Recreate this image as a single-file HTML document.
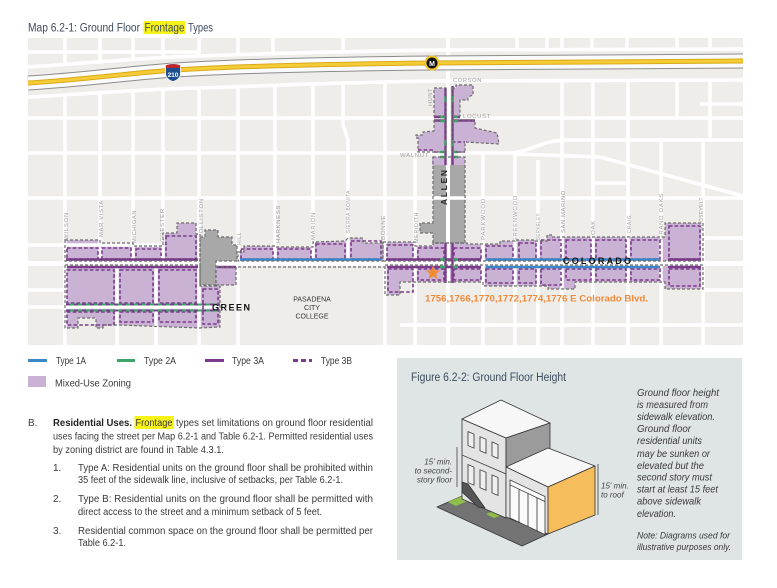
<!DOCTYPE html>
<html><head><meta charset="utf-8">
<style>
html,body{margin:0;padding:0;background:#fff;}
svg{display:block;}
</style></head>
<body>
<svg width="777" height="588" viewBox="0 0 777 588" xmlns="http://www.w3.org/2000/svg" font-family="Liberation Sans, sans-serif">
<rect width="777" height="588" fill="#fff"/>

<!-- Title -->
<rect x="143.5" y="21" width="42" height="13" fill="#f7f218"/>
<text x="28" y="31.5" font-size="11.5" fill="#3d4b5c" textLength="112" lengthAdjust="spacingAndGlyphs">Map 6.2-1: Ground Floor</text>
<text x="144.5" y="31.5" font-size="11.5" fill="#3d4b5c" textLength="40" lengthAdjust="spacingAndGlyphs">Frontage</text>
<text x="188" y="31.5" font-size="11.5" fill="#3d4b5c" textLength="25" lengthAdjust="spacingAndGlyphs">Types</text>

<!-- MAP -->
<rect x="28" y="38" width="715" height="307" fill="#efedea"/>

<!-- zones fill -->
<g fill="#c9b2d3">
<polygon points="65,240 100,240 100,243 133,243 133,246 163,246 163,233 177,233 177,223 196,223 196,234 200,234 200,263 65,263"/>
<polygon points="216,267 236,267 236,285 216,285"/>
<polygon points="65,265 200,265 200,286 220,286 220,327 200,328 118,325 103,325 103,328 96,328 96,318 78,318 78,328 65,328"/>
<polygon points="238,252 244,252 244,246 275,246 275,247 313,247 313,242 345,241 348,238 363,238 363,243 383,243 383,263 238,263"/>
<polygon points="383,242 415,242 415,246 433,246 433,243 467,243 467,244 500,244 500,241 515,241 515,240 535,240 535,241 547,241 547,235 552,235 552,237 665,237 665,223 703,223 703,263 383,263"/>
<polygon points="385,265 703,265 703,289 665,289 665,282 575,282 575,289 548,289 548,286 483,286 483,282 400,282 400,295 385,295"/>
<polygon points="434,88 446,88 446,116 434,116"/>
<polygon points="452,88 456,88 456,85 473,85 473,95 468,97 468,100 460,100 460,116 452,116"/>
<polygon points="434,120 446,120 446,152 418,152 418,138 416,138 416,135 423,135 423,132 434,131"/>
<polygon points="452,120 475,120 475,128 497,133 499,144 465,142 465,152 452,152"/>
<polygon points="432,157 446,157 446,165 432,165"/>
<polygon points="451,157 465,157 465,165 451,165"/>
</g>
<!-- grey Allen area -->
<polygon points="433,165 465,165 465,243 433,243 433,233 420,233 420,223 433,223" fill="#a8a8a8"/>

<!-- streets -->
<g stroke="#fff" stroke-width="3.5" fill="none">
<path d="M28,52 H200 M28,118 H743 M28,153 H515 M510,153 C530,152 540,141 565,140 H743 M515,154 L600,157 L743,196 M593,183 H628 M28,198 H743 M28,245 H163 M703,238 H743 M28,290 H65 M703,290 H743 M28,307 H220 M400,325 H743 M700,104 H743"/>
<path d="M65,38 V66 M100,38 V64 M133,38 V60 M163,38 V58 M199,38 V56 M238,38 V55 M273,38 V54 M343,38 V52 M448,38 V50 M517,38 V50 M547,38 V50 M562,38 V50 M592,38 V50 M627,38 V50 M677,38 V50 M710,38 V50"/>
<path d="M65,96 V345 M100,94 V263 M117,263 V345 M133,92 V263 M156,263 V345 M163,90 V263 M199,88 V345 M238,87 V345 M275,86 V263 M313,85 V263 M343,84 V125 L348,140 V263 M385,83 V345 M415,153 V345 M483,153 V345 M515,153 V345 M538,160 V345 M562,80 V345 M593,80 V345 M628,80 V345 M661,140 V345 M703,140 V345 M677,80 V118 M710,80 V140"/>
<path d="M448,38 V345" stroke-width="4"/>
<path d="M28,263.5 H743" stroke-width="5"/>
</g>
<!-- grey Wolliston area (over streets) -->
<polygon points="200,237 205,237 205,230 218,230 218,237 232,237 232,245 237,245 237,261 216,261 216,285 200,285" fill="#a8a8a8"/>

<!-- freeway -->
<g fill="none">
<path d="M28,67 C80,64 130,58 200,56 C280,53 360,51 432,50 L743,49" stroke="#fff" stroke-width="3.5"/>
<path d="M28,97 C90,94 140,89 200,88 C280,85 360,82 432,81 L743,80" stroke="#fff" stroke-width="3.5"/>
<path d="M28,83 C80,80 130,73 175,70 C240,66 330,64 432,63 L743,61" stroke="#8c8c8c" stroke-width="15"/>
<path d="M28,83 C80,80 130,73 175,70 C240,66 330,64 432,63 L743,61" stroke="#fbfbfb" stroke-width="13"/>
<path d="M28,83 C80,80 130,73 175,70 C240,66 330,64 432,63 L743,61" stroke="#d9a91c" stroke-width="5"/>
<path d="M28,83 C80,80 130,73 175,70 C240,66 330,64 432,63 L743,61" stroke="#f5cc35" stroke-width="3"/>
</g>
<!-- I-210 shield -->
<path d="M165.5,65 Q173,62.5 180.5,65 L180.5,73 Q180.5,79.5 173,81.5 Q165.5,79.5 165.5,73 Z" fill="#1d4f91" stroke="#fff" stroke-width="0.8"/>
<path d="M165.9,65.3 Q173,63 180.1,65.3 L180.1,68 L165.9,68 Z" fill="#c0272d"/>
<text x="173" y="77" font-size="6.5" font-weight="bold" fill="#fff" text-anchor="middle">210</text>
<!-- Metro -->
<circle cx="432" cy="63" r="7.5" fill="#f3c623"/>
<circle cx="432" cy="63" r="5.5" fill="#111"/>
<text x="432" y="65.8" font-size="7" font-weight="bold" fill="#fff" text-anchor="middle">M</text>

<!-- purple dashed block outlines (Type 3B) -->
<g fill="none" stroke="#7b3a8a" stroke-width="1.6" stroke-dasharray="3.5,2.2">
<rect x="67" y="248" width="31" height="11"/><rect x="102" y="248" width="29" height="11"/><rect x="136" y="249" width="25" height="10"/><rect x="166" y="236" width="30" height="23"/>
<rect x="67" y="270" width="47" height="33"/><rect x="120" y="270" width="33" height="33"/><rect x="159" y="270" width="37" height="33"/>
<rect x="67" y="312" width="47" height="13"/><rect x="120" y="312" width="33" height="10"/><rect x="159" y="312" width="37" height="10"/><rect x="203" y="289" width="15" height="35"/>
<rect x="241" y="249" width="32" height="10"/><rect x="278" y="249" width="33" height="10"/><rect x="316" y="244" width="29" height="15"/><rect x="351" y="241" width="30" height="18"/>
<rect x="387" y="245" width="26" height="14"/><rect x="418" y="248" width="26" height="11"/><rect x="454" y="248" width="27" height="11"/><rect x="486" y="246" width="27" height="13"/><rect x="519" y="243" width="17" height="16"/><rect x="541" y="240" width="20" height="19"/><rect x="566" y="240" width="25" height="19"/><rect x="596" y="240" width="30" height="19"/><rect x="631" y="240" width="29" height="19"/><rect x="669" y="226" width="31" height="33"/>
<rect x="388" y="269" width="25" height="23"/><rect x="418" y="269" width="26" height="11"/><rect x="454" y="269" width="27" height="11"/><rect x="486" y="269" width="27" height="14"/><rect x="519" y="269" width="17" height="14"/><rect x="541" y="269" width="20" height="16"/><rect x="566" y="269" width="25" height="11"/><rect x="596" y="269" width="30" height="11"/><rect x="631" y="269" width="29" height="11"/><rect x="669" y="269" width="31" height="17"/>
<path d="M434,152 H446 M452,152 H465 M452,142 H465 M418,150 H434"/>
</g>

<!-- Green street (Type 2A) -->
<g stroke="#3ea56a" stroke-width="2" fill="none">
<path d="M66,304.5 H220 M66,310.5 H220"/>
</g>
<g stroke="#7b3a8a" stroke-width="1.8" fill="none" stroke-dasharray="4,4">
<path d="M66,304.5 H220 M66,310.5 H220"/>
</g>

<!-- Colorado frontage lines -->
<g fill="none" stroke-width="2.4">
<path d="M66,259.5 H198 M386,259.5 H481 M668,259.5 H701 M67,267 H198 M217,267 H236 M387,267 H481 M668,267 H701" stroke="#7b3a8a"/>
<path d="M240,259.5 H381 M486,259.5 H660 M486,267 H660" stroke="#3b86c6"/>
<path d="M445.5,88 V165 M452.5,86 V165 M445.5,243 V283 M452.5,243 V283 M434,117 H446 M452,117 H460 M434,120.5 H446 M452,120.5 H475" stroke="#7b3a8a"/>
<path d="M440,259.5 H445 M453,259.5 H458 M440,267 H445 M453,267 H458 M440,117 H445 M453,117 H458 M440,121 H445 M453,121 H458 M440,152 H445 M453,152 H458 M440,157 H445 M453,157 H458 M445.5,96 V102 M452.5,96 V102 M445.5,140 V146 M452.5,140 V146" stroke="#3ea56a"/>
</g>

<!-- grey dashed zone outlines -->
<g fill="none" stroke="#6e6e6e" stroke-width="1.2" stroke-dasharray="3,2">
<polygon points="65,240 100,240 100,243 133,243 133,246 163,246 163,233 177,233 177,223 196,223 196,234 200,234 200,261 65,261"/>
<polygon points="65,265 200,265 200,286 220,286 220,327 200,328 118,325 103,325 103,328 96,328 96,318 78,318 78,328 65,328"/>
<polygon points="200,237 205,237 205,230 218,230 218,237 232,237 232,245 237,245 237,261 216,261 216,285 200,285"/>
<polygon points="216,267 236,267 236,285 216,285"/>
<polygon points="238,252 244,252 244,246 275,246 275,247 313,247 313,242 345,241 348,238 363,238 363,243 383,243 383,261 238,261"/>
<path d="M238,267 H385"/>
<polygon points="383,242 415,242 415,246 433,246 433,243 467,243 467,244 500,244 500,241 515,241 515,240 535,240 535,241 547,241 547,235 552,235 552,237 665,237 665,223 703,223 703,261 383,261"/>
<polygon points="385,265 703,265 703,289 665,289 665,282 575,282 575,289 548,289 548,286 483,286 483,282 400,282 400,295 385,295"/>
<polygon points="434,88 446,88 446,116 434,116"/>
<polygon points="452,88 456,88 456,85 473,85 473,95 468,97 468,100 460,100 460,116 452,116"/>
<polygon points="434,120 446,120 446,152 418,152 418,138 416,138 416,135 423,135 423,132 434,131"/>
<polygon points="452,120 475,120 475,128 497,133 499,144 465,142 465,152 452,152"/>
<polygon points="433,157 465,157 465,243 433,243 433,233 420,233 420,223 433,223"/>
</g>

<!-- street labels -->
<g font-size="5.5" fill="#a0a0a0" letter-spacing="0.6">
<text transform="translate(68,240) rotate(-90)" textLength="28" lengthAdjust="spacingAndGlyphs">WILSON</text>
<text transform="translate(103,237) rotate(-90)" textLength="37" lengthAdjust="spacingAndGlyphs">MAR VISTA</text>
<text transform="translate(136,243) rotate(-90)" textLength="33" lengthAdjust="spacingAndGlyphs">MICHIGAN</text>
<text transform="translate(164,242) rotate(-90)" textLength="34" lengthAdjust="spacingAndGlyphs">CHESTER</text>
<text transform="translate(203,240) rotate(-90)" textLength="42" lengthAdjust="spacingAndGlyphs">WOLLISTON</text>
<text transform="translate(241,245) rotate(-90)" textLength="13" lengthAdjust="spacingAndGlyphs">HILL</text>
<text transform="translate(280,243) rotate(-90)" textLength="38" lengthAdjust="spacingAndGlyphs">HARKNESS</text>
<text transform="translate(315,240) rotate(-90)" textLength="28" lengthAdjust="spacingAndGlyphs">MARION</text>
<text transform="translate(350,233) rotate(-90)" textLength="43" lengthAdjust="spacingAndGlyphs">SIERRA BONITA</text>
<text transform="translate(385,240) rotate(-90)" textLength="25" lengthAdjust="spacingAndGlyphs">BONNE</text>
<text transform="translate(418,243) rotate(-90)" textLength="31" lengthAdjust="spacingAndGlyphs">MERIDITH</text>
<text transform="translate(485,240) rotate(-90)" textLength="42" lengthAdjust="spacingAndGlyphs">PARKWOOD</text>
<text transform="translate(517,242) rotate(-90)" textLength="47" lengthAdjust="spacingAndGlyphs">GREENWOOD</text>
<text transform="translate(540,240) rotate(-90)" textLength="27" lengthAdjust="spacingAndGlyphs">BERKELEY</text>
<text transform="translate(565,233) rotate(-90)" textLength="43" lengthAdjust="spacingAndGlyphs">SAN MARINO</text>
<text transform="translate(595,235) rotate(-90)" textLength="15" lengthAdjust="spacingAndGlyphs">OAK</text>
<text transform="translate(631,233) rotate(-90)" textLength="18" lengthAdjust="spacingAndGlyphs">CRAIG</text>
<text transform="translate(663,240) rotate(-90)" textLength="47" lengthAdjust="spacingAndGlyphs">GRAND OAKS</text>
<text transform="translate(703,230) rotate(-90)" textLength="33" lengthAdjust="spacingAndGlyphs">ROOSEVELT</text>
<text transform="translate(432,106) rotate(-90)" textLength="18" lengthAdjust="spacingAndGlyphs">HUNT</text>
<text x="453" y="82" textLength="29" lengthAdjust="spacingAndGlyphs">CORSON</text>
<text x="463" y="118" textLength="28" lengthAdjust="spacingAndGlyphs">LOCUST</text>
<text x="400" y="157" textLength="29" lengthAdjust="spacingAndGlyphs">WALNUT</text>
</g>

<!-- map labels -->
<text x="563" y="264" font-size="9" font-weight="bold" fill="#111" textLength="68" lengthAdjust="spacing">COLORADO</text>
<text x="212" y="310.5" font-size="9" font-weight="bold" fill="#111" textLength="38" lengthAdjust="spacing">GREEN</text>
<text transform="translate(447,205) rotate(-90)" font-size="8.5" font-weight="bold" fill="#222" textLength="35" lengthAdjust="spacing">ALLEN</text>
<g font-size="7" fill="#333" text-anchor="middle">
<text x="312" y="301.5">PASADENA</text>
<text x="312" y="310">CITY</text>
<text x="312" y="318.5">COLLEGE</text>
</g>
<polygon points="433,265.5 434.88,270.41 440.13,270.68 436.04,273.99 437.41,279.07 433,276.2 428.59,279.07 429.96,273.99 425.87,270.68 431.12,270.41" fill="#f28a30"/>
<text x="425" y="301.5" font-size="9.5" font-weight="bold" fill="#f08a3a" textLength="223" lengthAdjust="spacingAndGlyphs">1756,1766,1770,1772,1774,1776 E Colorado Blvd.</text>

<!-- Legend -->
<g stroke-width="3" fill="none">
<path d="M28,360.5 H47" stroke="#3b86c6"/>
<path d="M117,360.5 H135" stroke="#3ea56a"/>
<path d="M205,360.5 H224" stroke="#7b3a8a"/>
<path d="M293,360.5 H312" stroke="#7b3a8a" stroke-dasharray="5,3"/>
</g>
<rect x="28" y="376" width="18" height="11" fill="#c9b2d3"/>
<g font-size="10" fill="#3a3a3a">
<text x="56" y="364" textLength="30" lengthAdjust="spacingAndGlyphs">Type 1A</text>
<text x="144" y="364" textLength="32" lengthAdjust="spacingAndGlyphs">Type 2A</text>
<text x="232" y="364" textLength="32" lengthAdjust="spacingAndGlyphs">Type 3A</text>
<text x="321" y="364" textLength="31" lengthAdjust="spacingAndGlyphs">Type 3B</text>
<text x="55" y="386.5" textLength="76" lengthAdjust="spacingAndGlyphs">Mixed-Use Zoning</text>
</g>

<!-- Paragraph -->
<rect x="134.5" y="416" width="39.5" height="13" fill="#f7f218"/>
<g font-size="10" fill="#3a3a3a">
<text x="28" y="426">B.</text>
<text x="53" y="426" font-weight="bold" fill="#222" textLength="79" lengthAdjust="spacingAndGlyphs">Residential Uses.</text>
<text x="135.5" y="426" textLength="37" lengthAdjust="spacingAndGlyphs">Frontage</text>
<text x="176" y="426" textLength="197" lengthAdjust="spacingAndGlyphs">types set limitations on ground floor residential</text>
<text x="53" y="439.5" textLength="320" lengthAdjust="spacingAndGlyphs">uses facing the street per Map 6.2-1 and Table 6.2-1. Permitted residential uses</text>
<text x="53" y="453" textLength="171" lengthAdjust="spacingAndGlyphs">by zoning district are found in Table 4.3.1.</text>
<text x="53" y="471">1.</text>
<text x="78" y="471" textLength="295" lengthAdjust="spacingAndGlyphs">Type A: Residential units on the ground floor shall be prohibited within</text>
<text x="78" y="483" textLength="265" lengthAdjust="spacingAndGlyphs">35 feet of the sidewalk line, inclusive of setbacks, per Table 6.2-1.</text>
<text x="53" y="502">2.</text>
<text x="78" y="502" textLength="295" lengthAdjust="spacingAndGlyphs">Type B: Residential units on the ground floor shall be permitted with</text>
<text x="78" y="515" textLength="244" lengthAdjust="spacingAndGlyphs">direct access to the street and a minimum setback of 5 feet.</text>
<text x="53" y="534">3.</text>
<text x="78" y="534" textLength="295" lengthAdjust="spacingAndGlyphs">Residential common space on the ground floor shall be permitted per</text>
<text x="78" y="546" textLength="48" lengthAdjust="spacingAndGlyphs">Table 6.2-1.</text>
</g>

<!-- Figure box -->
<rect x="397" y="358" width="345" height="202" fill="#dfe5e5"/>
<text x="411" y="381" font-size="11.5" fill="#3d4b5c" textLength="155" lengthAdjust="spacingAndGlyphs">Figure 6.2-2: Ground Floor Height</text>
<g font-size="10.5" font-style="italic" fill="#3a3a3a">
<text x="637" y="396" textLength="82" lengthAdjust="spacingAndGlyphs">Ground floor height</text>
<text x="637" y="408" textLength="71" lengthAdjust="spacingAndGlyphs">is measured from</text>
<text x="637" y="420" textLength="78" lengthAdjust="spacingAndGlyphs">sidewalk elevation.</text>
<text x="637" y="432" textLength="54" lengthAdjust="spacingAndGlyphs">Ground floor</text>
<text x="637" y="444" textLength="65" lengthAdjust="spacingAndGlyphs">residential units</text>
<text x="637" y="457" textLength="73" lengthAdjust="spacingAndGlyphs">may be sunken or</text>
<text x="637" y="469" textLength="67" lengthAdjust="spacingAndGlyphs">elevated but the</text>
<text x="637" y="480.5" textLength="75" lengthAdjust="spacingAndGlyphs">second story must</text>
<text x="637" y="492.5" textLength="81" lengthAdjust="spacingAndGlyphs">start at least 15 feet</text>
<text x="637" y="504.5" textLength="64" lengthAdjust="spacingAndGlyphs">above sidewalk</text>
<text x="637" y="517" textLength="39" lengthAdjust="spacingAndGlyphs">elevation.</text>
<text x="637" y="538.5" font-size="9.5" textLength="93" lengthAdjust="spacingAndGlyphs">Note: Diagrams used for</text>
<text x="637" y="550" font-size="9.5" textLength="94" lengthAdjust="spacingAndGlyphs">illustrative purposes only.</text>
</g>

<!-- Building illustration -->
<g stroke="#333" stroke-width="0.8" stroke-linejoin="round">
<polygon points="437,507 462,496 548,534 522,546" fill="#737373"/>
<polygon points="448,502 462,496 470,500 456,506" fill="#8fbf4a" stroke="none"/>
<polygon points="486,514 494,511 502,515 494,518" fill="#8fbf4a" stroke="none"/>
<polygon points="462,419 506,438 506,518 462,499" fill="#e4e4e4"/>
<polygon points="462,419 501,400 550,423 506,438" fill="#f7f7f7"/>
<polygon points="506,438 550,423 550,449 506,467" fill="#9b9b9b"/>
<polygon points="506,467 548,448 595,466 548,487" fill="#f7f7f7"/>
<polygon points="506,467 548,487 548,534 506,517" fill="#e4e4e4"/>
<polygon points="548,487 595,466 595,515 548,534" fill="#f5bd5c"/>
<g transform="matrix(1,0.43,0,1,462,419)" fill="#efefef">
<path d="M0,36 H44" fill="none"/>
<rect x="6" y="10" width="6" height="14"/><rect x="18" y="10" width="6" height="14"/><rect x="30" y="10" width="6" height="14"/>
<rect x="6" y="43" width="6" height="18"/><rect x="18" y="43" width="6" height="18"/><rect x="30" y="43" width="6" height="18"/>
</g>
<polygon points="462,482 468,484 485,508 478,507 462,492" fill="#555"/>
<g transform="matrix(1,0.476,0,1,506,467)" fill="#fafafa">
<rect x="4" y="11" width="35" height="38"/>
<path d="M13,16 V49 M22,16 V49 M31,16 V49 M4,16 H39" fill="none"/>
</g>
</g>
<g stroke="#555" stroke-width="0.9">
<path d="M457,447 V487"/>
<path d="M598,464 V515"/>
</g>
<g font-size="8" font-style="italic" fill="#444" text-anchor="end">
<text x="452" y="464.5">15' min.</text>
<text x="452" y="473.5">to second-</text>
<text x="452" y="482.5">story floor</text>
</g>
<g font-size="8" font-style="italic" fill="#444">
<text x="601" y="488.5">15' min.</text>
<text x="601" y="497.5">to roof</text>
</g>
</svg>
</body></html>
